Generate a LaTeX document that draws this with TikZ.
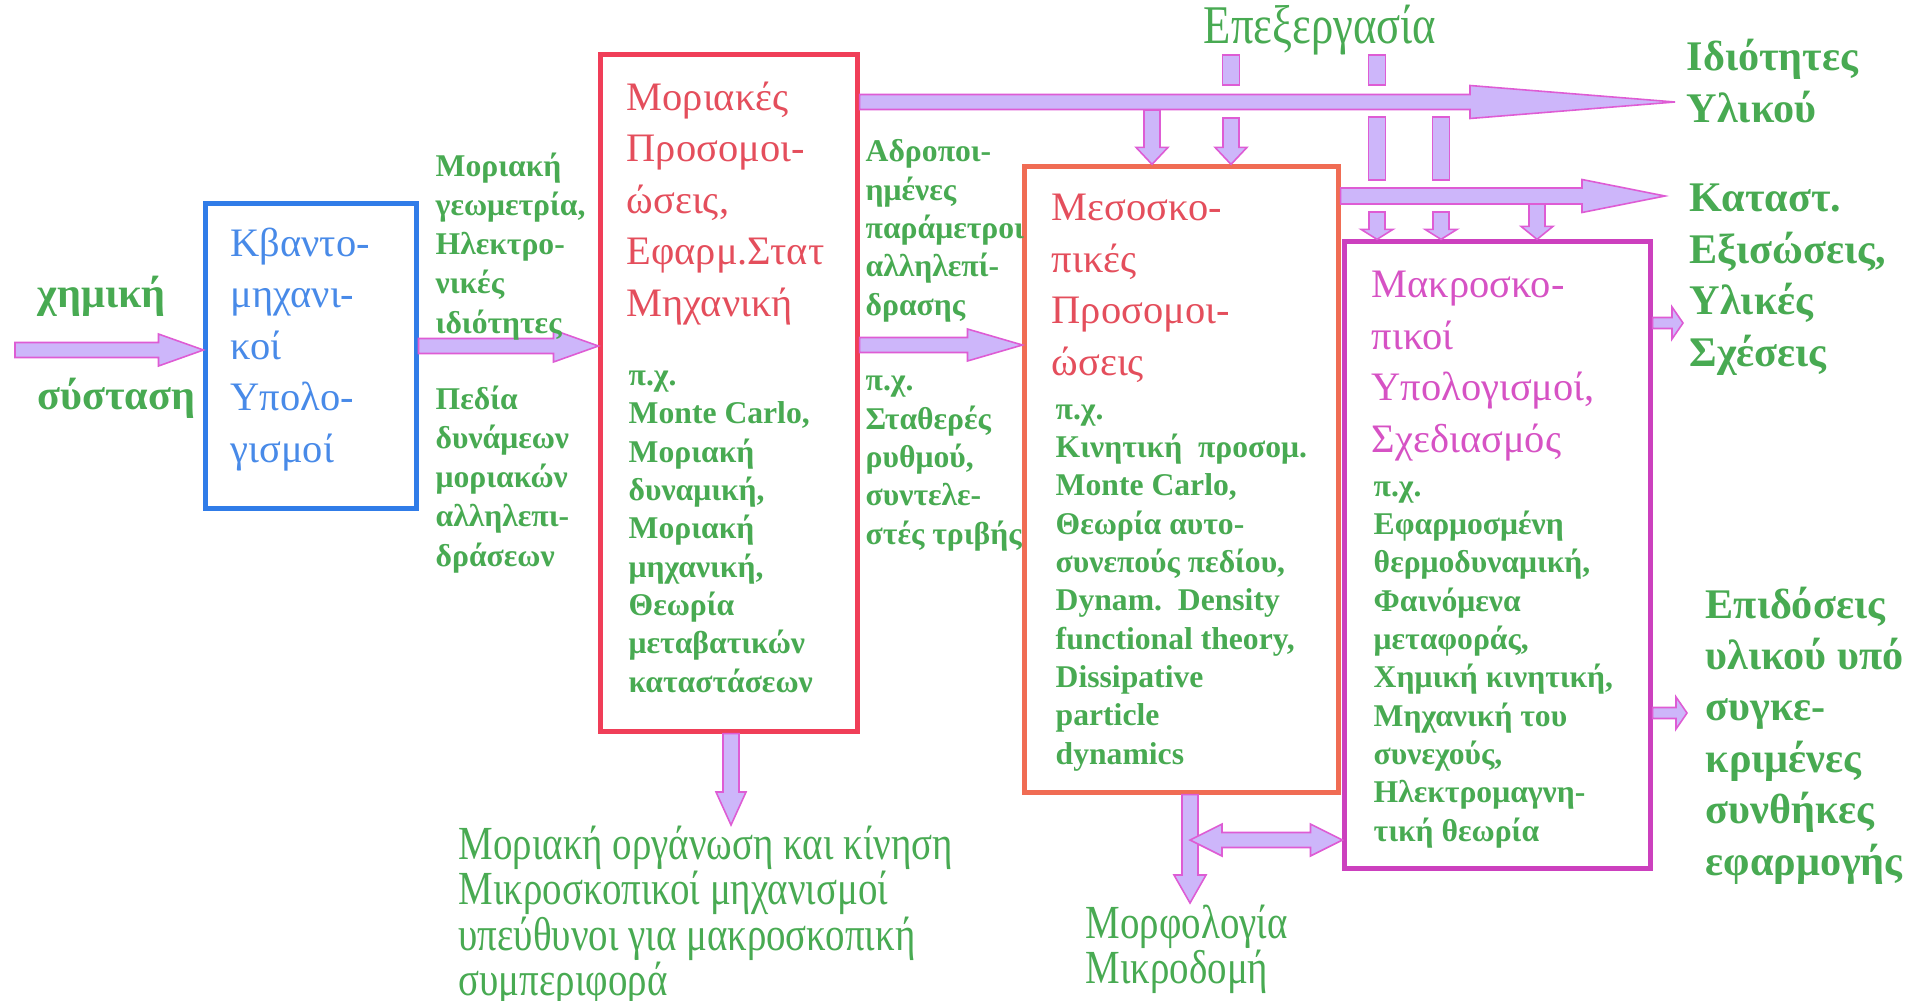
\documentclass[tikz,border=0pt]{standalone}
\usepackage{fontspec}
\setmainfont{Liberation Serif}
\newfontfamily\narrowserif[FakeStretch=0.82]{Liberation Serif}
\usetikzlibrary{calc}

\definecolor{arrowfill}{RGB}{205,182,250}
\definecolor{arrowline}{RGB}{222,92,212}
\definecolor{labelgreen}{RGB}{72,170,82}
\definecolor{quantblue}{RGB}{48,124,232}
\definecolor{quanttext}{RGB}{72,138,232}
\definecolor{molred}{RGB}{240,62,88}
\definecolor{mesored}{RGB}{240,108,84}
\definecolor{titlered}{RGB}{228,78,92}
\definecolor{macromag}{RGB}{204,64,190}
\definecolor{macrotext}{RGB}{214,82,196}

% block arrow: tail, tip, half shaft, half head, head length (px)
\newcommand{\blockarrow}[5]{%
  \coordinate (ba) at ($(#2)!#5*0.01cm!(#1)$);
  \draw[arrowbody] ($(#1)!#3*0.01cm!90:(#2)$) -- ($(ba)!#3*0.01cm!90:(#2)$)
    -- ($(ba)!#4*0.01cm!90:(#2)$) -- (#2)
    -- ($(ba)!#4*0.01cm!-90:(#2)$) -- ($(ba)!#3*0.01cm!-90:(#2)$)
    -- ($(#1)!#3*0.01cm!-90:(#2)$) -- cycle;}

% double headed block arrow
\newcommand{\dblarrow}[5]{%
  \coordinate (bb) at ($(#1)!#5*0.01cm!(#2)$);
  \coordinate (bc) at ($(#2)!#5*0.01cm!(#1)$);
  \draw[arrowbody] (#1) -- ($(bb)!#4*0.01cm!90:(#2)$) -- ($(bb)!#3*0.01cm!90:(#2)$)
    -- ($(bc)!#3*0.01cm!90:(#2)$) -- ($(bc)!#4*0.01cm!90:(#2)$) -- (#2)
    -- ($(bc)!#4*0.01cm!-90:(#2)$) -- ($(bc)!#3*0.01cm!-90:(#2)$)
    -- ($(bb)!#3*0.01cm!-90:(#2)$) -- ($(bb)!#4*0.01cm!-90:(#2)$) -- cycle;}

% plain bar between two points
\newcommand{\blockbar}[3]{%
  \draw[arrowbody] ($(#1)!#3*0.01cm!90:(#2)$) -- ($(#2)!#3*0.01cm!-90:(#1)$)
    -- ($(#2)!#3*0.01cm!90:(#1)$) -- ($(#1)!#3*0.01cm!-90:(#2)$) -- cycle;}

\begin{document}
\begin{tikzpicture}[x=0.01cm,y=-0.01cm,
  box/.style={draw,line width=1.4pt,inner sep=0},
  arrowbody/.style={draw=arrowline,fill=arrowfill,line width=0.45pt,line join=miter},
  boxtitle/.style={anchor=base west,align=left,inner sep=0,
    font=\fontsize{11.5}{14.6}\selectfont},
  greentext/.style={anchor=base west,align=left,inner sep=0,text=labelgreen,
    font=\fontsize{9}{10.9}\selectfont\bfseries},
  biglabel/.style={anchor=base west,align=left,inner sep=0,text=labelgreen,
    font=\fontsize{12}{14.6}\selectfont\bfseries},
  narrowlabel/.style={anchor=base west,align=left,inner sep=0,text=labelgreen,
    font=\narrowserif\fontsize{13.5}{12.8}\selectfont}]

\useasboundingbox (0,0) rectangle (1916,1000);

% Boxes
\node[box,draw=quantblue,minimum width=2.10cm,minimum height=3.04cm] (quant) at (311,356) {};
\node[box,draw=molred,minimum width=2.56cm,minimum height=6.76cm] (mol) at (729,393) {};
\node[box,draw=mesored,minimum width=3.13cm,minimum height=6.25cm] (meso) at (1181.5,479.5) {};
\node[box,draw=macromag,minimum width=3.05cm,minimum height=6.26cm] (macro) at (1497.5,555) {};

% Main arrows
\coordinate (chem) at (15,350);
\blockarrow{chem}{quant.west |- chem}{7.5}{16}{45}
\coordinate (qm) at (0,346);
\blockarrow{quant.east |- qm}{mol.west |- qm}{7.5}{16}{45}
\coordinate (mm) at (0,345);
\blockarrow{mol.east |- mm}{meso.west |- mm}{7.5}{16}{55}

% Property arrows
\coordinate (props) at (1675,102);
\blockarrow{mol.east |- props}{props}{7.5}{16.5}{205}
\coordinate (states) at (1665,196);
\blockarrow{meso.east |- states}{states}{8}{16.5}{83}

% Processing inputs
\coordinate (pa) at (1231,55);
\coordinate (pb) at (1377,55);
\blockbar{pa}{$(pa)+(0,30)$}{8.5}
\blockbar{pb}{$(pb)+(0,30)$}{8.5}
\coordinate (pc) at (1377,117);
\coordinate (pd) at (1441,117);
\blockbar{pc}{$(pc)+(0,63)$}{8.5}
\blockbar{pd}{$(pd)+(0,63)$}{8.5}

% Down arrows
\coordinate (da) at (1152,110);
\blockarrow{da}{meso.north -| da}{8}{16}{17}
\coordinate (db) at (1231,118);
\blockarrow{db}{meso.north -| db}{8}{16}{17}
\coordinate (dc) at (1377,212);
\blockarrow{dc}{macro.north -| dc}{8}{16}{10}
\coordinate (dd) at (1441,212);
\blockarrow{dd}{macro.north -| dd}{8}{16}{10}
\coordinate (de) at (1537,204);
\blockarrow{de}{macro.north -| de}{8}{16}{13}

% Output arrows
\coordinate (eqs) at (1683,323);
\blockarrow{macro.east |- eqs}{eqs}{5.5}{16}{11}
\coordinate (perf) at (1687,713);
\blockarrow{macro.east |- perf}{perf}{5.5}{16}{11}
\coordinate (org) at (731,825);
\blockarrow{mol.south -| org}{org}{8}{15}{33}
\coordinate (morph) at (1190,903);
\blockarrow{meso.south -| morph}{morph}{8}{16}{28}
\coordinate (mj) at (1190,840);
\dblarrow{mj}{macro.west |- mj}{7.5}{16}{32}

% Box titles (placed at last baseline)
\node[boxtitle,text=quanttext] (quanttitle) at (230,462)
  {Κβαντο-\\μηχανι-\\κοί\\Υπολο-\\γισμοί};
\node[boxtitle,text=titlered] (moltitle) at (626,316)
  {Μοριακές\\Προσομοι-\\ώσεις,\\Εφαρμ.Στατ\\Μηχανική};
\node[boxtitle,text=titlered] (mesotitle) at (1051,375)
  {Μεσοσκο-\\πικές\\Προσομοι-\\ώσεις};
\node[boxtitle,text=macrotext] (macrotitle) at (1371,452)
  {Μακροσκο-\\πικοί\\Υπολογισμοί,\\Σχεδιασμός};

% Box examples
\node[greentext] (molex) at (628,692)
  {π.χ.\\Monte Carlo,\\Μοριακή\\δυναμική,\\Μοριακή\\μηχανική,\\Θεωρία\\μεταβατικών\\καταστάσεων};
\node[greentext] (mesoex) at (1055,764)
  {π.χ.\\Κινητική\ \ προσομ.\\Monte Carlo,\\Θεωρία αυτο-\\συνεπούς πεδίου,\\Dynam.\ \ Density\\functional theory,\\Dissipative\\particle\\dynamics};
\node[greentext] (macroex) at (1373,841)
  {π.χ.\\Εφαρμοσμένη\\θερμοδυναμική,\\Φαινόμενα\\μεταφοράς,\\Χημική κινητική,\\Μηχανική του\\συνεχούς,\\Ηλεκτρομαγνη-\\τική θεωρία};

% Arrow labels
\node[greentext,font=\fontsize{9}{11.1}\selectfont\bfseries] (geom) at (435,333)
  {Μοριακή\\γεωμετρία,\\Ηλεκτρο-\\νικές\\ιδιότητες};
\node[greentext,font=\fontsize{9}{11.1}\selectfont\bfseries] (fields) at (435,566)
  {Πεδία\\δυνάμεων\\μοριακών\\αλληλεπι-\\δράσεων};
\node[greentext] (coarse) at (865,315)
  {Αδροποι-\\ημένες\\παράμετροι\\αλληλεπί-\\δρασης};
\node[greentext] (rates) at (865,544)
  {π.χ.\\Σταθερές\\ρυθμού,\\συντελε-\\στές τριβής};
\node[biglabel] (chemtop) at (37,307) {χημική};
\node[biglabel] (chembot) at (37,409) {σύσταση};

% Outputs
\node[narrowlabel,anchor=base,font=\narrowserif\fontsize{15.5}{15}\selectfont] (proc) at (1320,43) {Επεξεργασία};
\node[biglabel] (propslabel) at (1686,122) {Ιδιότητες\\Υλικού};
\node[biglabel] (stateslabel) at (1689,366) {Καταστ.\\Εξισώσεις,\\Υλικές\\Σχέσεις};
\node[biglabel] (perflabel) at (1705,875)
  {Επιδόσεις\\υλικού υπό\\συγκε-\\κριμένες\\συνθήκες\\εφαρμογής};
\node[narrowlabel] (orglabel) at (458,995)
  {Μοριακή οργάνωση και κίνηση\\Μικροσκοπικοί μηχανισμοί\\υπεύθυνοι για μακροσκοπική\\συμπεριφορά};
\node[narrowlabel] (morphlabel) at (1085,983) {Μορφολογία\\Μικροδομή};

\end{tikzpicture}
\end{document}
